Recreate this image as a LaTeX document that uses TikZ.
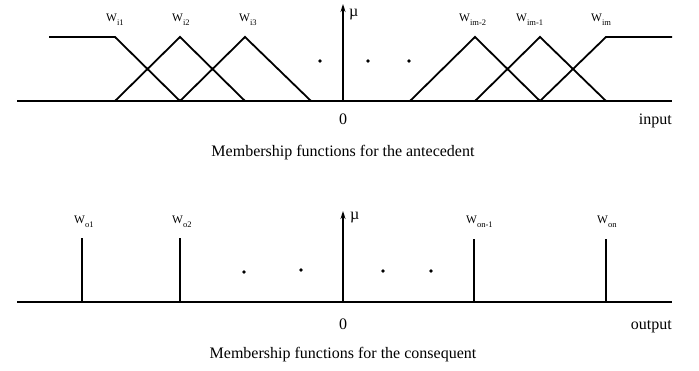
\documentclass[tikz,border=0pt]{standalone}
\usepackage{fontspec}
\setmainfont{Liberation Serif}
\usetikzlibrary{arrows.meta}
\newcommand{\wsub}[1]{W\raisebox{-0.65ex}{\fontsize{8.5}{9}\selectfont #1}}
\begin{document}
\begin{tikzpicture}[x=1pt,y=-1pt,
  mf/.style={line width=1.8pt,line join=miter},
  base/.style={line width=1.2pt},
  spike/.style={line width=1.8pt},
  axis/.style={line width=1.2pt,-{Stealth[length=8pt,width=5pt]}},
  lbl/.style={font=\fontsize{11.5}{12}\selectfont,inner sep=0pt,anchor=base west},
  txt/.style={font=\fontsize{16}{18}\selectfont,inner sep=0pt},
  dotc/.style={fill=black}]
\useasboundingbox (0,0) rectangle (699,371);
% ---------- top panel ----------
\coordinate (tl) at (17,101);
\coordinate (tr) at (672,101);
\coordinate (o1) at (343,101);
\coordinate (a1) at (343,4);
\draw[base] (tl) -- (tr);
\draw[axis] (o1) -- (a1);
\node[txt,anchor=base west] (mu1) at (349,17) {µ};
% membership functions
\coordinate (p0) at (49,37);
\coordinate (p1) at (115,37);
\coordinate (f1) at (115,101);
\coordinate (f2) at (180,101);
\coordinate (f3) at (245,101);
\coordinate (f4) at (311,101);
\coordinate (k2) at (180,37);
\coordinate (k3) at (245,37);
\draw[mf] (p0) -- (p1) -- (f2);
\draw[mf] (f1) -- (k2) -- (f3);
\draw[mf] (f2) -- (k3) -- (f4);
\coordinate (g1) at (410,101);
\coordinate (g2) at (475,101);
\coordinate (g3) at (540,101);
\coordinate (g4) at (606,101);
\coordinate (m2) at (475,37);
\coordinate (m1) at (540,37);
\coordinate (m0) at (606,37);
\coordinate (pe) at (672,37);
\draw[mf] (g1) -- (m2) -- (g3);
\draw[mf] (g2) -- (m1) -- (g4);
\draw[mf] (g3) -- (m0) -- (pe);
\fill[dotc] (320,61) circle (1.8);
\fill[dotc] (368,61) circle (1.8);
\fill[dotc] (409,61) circle (1.8);
\node[lbl] (wi1) at (106,22) {\wsub{i1}};
\node[lbl] (wi2) at (172,22) {\wsub{i2}};
\node[lbl] (wi3) at (239,22) {\wsub{i3}};
\node[lbl] (wim2) at (459,22) {\wsub{im-2}};
\node[lbl] (wim1) at (516,22) {\wsub{im-1}};
\node[lbl] (wim) at (591,22) {\wsub{im}};
\node[txt,anchor=base] (z1) at (343,125) {0};
\node[txt,anchor=base east] (in) at (672,125) {input};
\node[txt,anchor=base] (c1) at (343,157) {Membership functions for the antecedent};
% ---------- bottom panel ----------
\coordinate (bl) at (17,302);
\coordinate (br) at (672,302);
\coordinate (o2) at (343,302);
\coordinate (a2) at (343,211);
\draw[base] (bl) -- (br);
\draw[axis] (o2) -- (a2);
\node[txt,anchor=base west] (mu2) at (350,220) {µ};
\coordinate (s1b) at (82,302);  \coordinate (s1t) at (82,238);
\coordinate (s2b) at (180,302); \coordinate (s2t) at (180,238);
\coordinate (s3b) at (474,302); \coordinate (s3t) at (474,239);
\coordinate (s4b) at (606,302); \coordinate (s4t) at (606,239);
\draw[spike] (s1b) -- (s1t);
\draw[spike] (s2b) -- (s2t);
\draw[spike] (s3b) -- (s3t);
\draw[spike] (s4b) -- (s4t);
\fill[dotc] (244,272) circle (1.8);
\fill[dotc] (301,270) circle (1.8);
\fill[dotc] (383,271) circle (1.8);
\fill[dotc] (431,271) circle (1.8);
\node[lbl] (wo1) at (74,224) {\wsub{o1}};
\node[lbl] (wo2) at (172,224) {\wsub{o2}};
\node[lbl] (won1) at (466,224) {\wsub{on-1}};
\node[lbl] (won) at (597,224) {\wsub{on}};
\node[txt,anchor=base] (z2) at (343,330) {0};
\node[txt,anchor=base east] (out) at (672,330) {output};
\node[txt,anchor=base] (c2) at (343,359) {Membership functions for the consequent};
\end{tikzpicture}
\end{document}
